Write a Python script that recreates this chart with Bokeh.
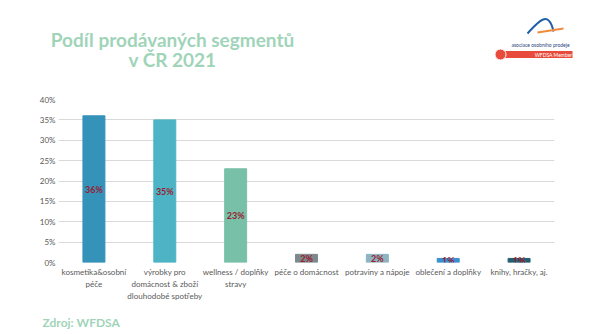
from bokeh.plotting import figure
from bokeh.layouts import column
from bokeh.models import ColumnDataSource, NumeralTickFormatter, Range1d, FixedTicker
from bokeh.core.properties import value
from bokeh.embed import file_html
from bokeh.resources import INLINE

categories = ["kosmetika&osobní\npéče", "výrobky pro\ndomácnost & zboží\ndlouhodobé spotřeby",
              "wellness / doplňky\nstravy", "péče o domácnost", "potraviny a nápoje",
              "oblečení a doplňky", "knihy, hračky, aj."]
shares = [0.36, 0.35, 0.23, 0.02, 0.02, 0.01, 0.01]
share_labels = ["36%", "35%", "23%", "2%", "2%", "1%", "1%"]
bar_colors = ["#3592b9", "#4db4c5", "#78c0a8", "#7d898c", "#8db4c0", "#3a8ed2", "#235f70"]
y_ticks = [0, 0.05, 0.10, 0.15, 0.20, 0.25, 0.30, 0.35, 0.40]
title_lines = ["Podíl prodávaných segmentů", "v ČR 2021"]
source_text = "Zdroj: WFDSA"
logo_texts = ["asociace osobního prodeje", "WFDSA Member"]

FONT = "Lato"
GREEN = "#9fd4b9"


def blank(height):
    f = figure(width=599, height=height, x_range=Range1d(0, 599), y_range=Range1d(height, 0),
               output_backend="svg", toolbar_location=None, min_border=0)
    f.axis.visible = False
    f.grid.visible = False
    f.outline_line_color = None
    f.frame_align = False
    return f


# ---------- header ----------
hdr = blank(90)
hdr.text(x=[172, 172], y=[39, 59], text=title_lines, text_font=value(FONT),
         text_font_style="bold", text_font_size="19px", text_color=GREEN,
         text_align="center", text_baseline="middle")
hdr.bezier(x0=[527], y0=[33], x1=[553], y1=[31], cx0=[537], cy0=[22], cx1=[548], cy1=[8],
           line_color="#1f5fa8", line_width=2)
hdr.segment(x0=[537], y0=[32], x1=[563], y1=[28], line_color="#f08a3c", line_width=2)
hdr.text(x=[540], y=[44], text=[logo_texts[0]], text_font=value(FONT),
         text_font_size="5px", text_color="#1f3f7a", text_align="center", text_baseline="middle")
hdr.quad(left=[503], right=[572], top=[50.5], bottom=[57.5], fill_color="#e84b3c", line_color=None)
hdr.scatter(x=[500], y=[54], size=11, fill_color="#e84b3c", line_color="white", line_width=1)
hdr.text(x=[553], y=[54], text=[logo_texts[1]], text_font=value(FONT),
         text_font_size="5px", text_color="white", text_align="center", text_baseline="middle")

# ---------- main chart ----------
src = ColumnDataSource(dict(cat=categories, val=shares, mid=[v / 2 for v in shares],
                            lab=share_labels, col=bar_colors))
p = figure(width=599, height=215, x_range=categories, y_range=Range1d(0, 0.40),
           output_backend="svg", toolbar_location=None,
           min_border_left=58, min_border_right=45, min_border_top=9, min_border_bottom=43)
p.frame_align = False
p.outline_line_color = None
p.vbar(x="cat", top="val", width=0.31, color="col", source=src)
p.text(x="cat", y="mid", text="lab", source=src, text_font=value(FONT), text_font_style="bold",
       text_font_size="9px", text_color="#9b1c31", text_align="center", text_baseline="middle")
p.yaxis.ticker = FixedTicker(ticks=y_ticks)
p.yaxis.formatter = NumeralTickFormatter(format="0%")
p.axis.axis_line_color = None
p.axis.major_tick_line_color = None
p.axis.minor_tick_line_color = None
p.axis.major_tick_out = 0
p.axis.major_tick_in = 0
p.axis.major_label_text_font = FONT
p.axis.major_label_text_font_size = "8px"
p.axis.major_label_text_color = "#595959"
p.yaxis.major_label_standoff = 3
p.xaxis.major_label_standoff = 4
p.xgrid.grid_line_color = None
p.ygrid.grid_line_color = "#d9d9d9"
p.ygrid.grid_line_width = 1

# ---------- footer ----------
ftr = blank(29)
ftr.text(x=[42], y=[17], text=[source_text], text_font=value(FONT), text_font_style="bold",
         text_font_size="12px", text_color=GREEN, text_align="left", text_baseline="middle")

layout = column(hdr, p, ftr, spacing=0)
open("out.html", "w").write(file_html(layout, INLINE))
